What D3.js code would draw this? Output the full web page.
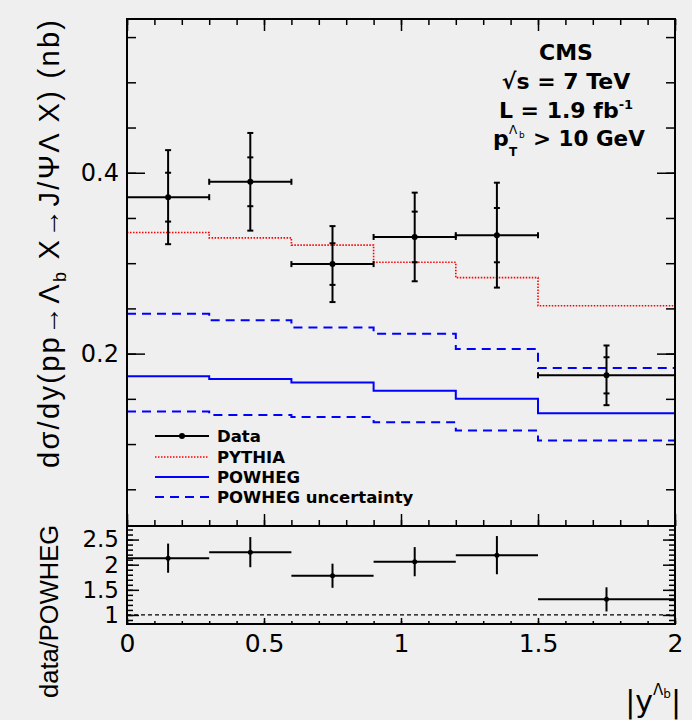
<!DOCTYPE html>
<html>
<head>
<meta charset="utf-8">
<script src="https://cdn.jsdelivr.net/npm/d3@7"></script>
<style>
body { margin: 0; background: #efefef; }
svg { display: block; }
text { fill: #000; }
</style>
</head>
<body>
<svg></svg>
<script>
const size = {w: 692, h: 720};
// frame of the two pads (main on top, ratio below)
const frame = {l: 127, r: 675, t: 19, mid: 526, b: 624};

// ---- data ----
const binEdges = [0, 0.3, 0.6, 0.9, 1.2, 1.5, 2.0];
const dataXsec = [0.373, 0.390, 0.299, 0.329, 0.331, 0.176];
const statErr = [0.027, 0.027, 0.023, 0.028, 0.030, 0.020];
const totErr = [0.052, 0.054, 0.042, 0.049, 0.058, 0.033];
const pythia = [0.334, 0.328, 0.320, 0.301, 0.284, 0.253];
const powheg = [0.175, 0.172, 0.168, 0.159, 0.150, 0.134];
const powhegUp = [0.244, 0.237, 0.229, 0.222, 0.205, 0.184];
const powhegDown = [0.136, 0.132, 0.130, 0.124, 0.115, 0.104];
const ratio = [2.13, 2.25, 1.78, 2.06, 2.19, 1.31];
const ratioErr = [0.29, 0.30, 0.24, 0.29, 0.38, 0.24];

const xTicks = [0, 0.5, 1, 1.5, 2];
const yMainTicks = [0.2, 0.4];
const yRatioTicks = [1, 1.5, 2, 2.5];
const legendLabels = ['Data', 'PYTHIA', 'POWHEG', 'POWHEG uncertainty'];

const svg = d3.select('svg')
    .attr('width', size.w)
    .attr('height', size.h);

svg.append('rect').attr('width', size.w).attr('height', size.h).attr('fill', '#efefef');

// scales
const x = d3.scaleLinear().domain([0, 2]).range([frame.l, frame.r]);
const yMain = d3.scaleLinear().domain([0.0094, 0.57]).range([frame.mid, frame.t]);
const yRatio = d3.scaleLinear().domain([0.82, 2.77]).range([frame.b, frame.mid]);

const bins = dataXsec.map((v, i) => ({
    lo: binEdges[i], hi: binEdges[i + 1],
    c: (binEdges[i] + binEdges[i + 1]) / 2,
    v: v, stat: statErr[i], tot: totErr[i],
    r: ratio[i], rErr: ratioErr[i]
}));

const minorX = d3.range(0, 2.001, 0.1);
const labelFont = 'DejaVu Sans, sans-serif';

// helper: ticks only (no domain line), styled ROOT-like
function ticks(axis, tx, ty) {
    const g = svg.append('g')
        .attr('transform', `translate(${tx},${ty})`)
        .call(axis);
    g.select('.domain').remove();
    g.selectAll('line').attr('stroke', '#000').attr('stroke-width', 1.5);
    g.selectAll('text').attr('font-family', labelFont).attr('font-size', 24).attr('fill', '#000');
    return g;
}

// ---- main pad ticks ----
ticks(d3.axisLeft(yMain).tickValues(d3.range(0.05, 0.56, 0.05)).tickSize(-9).tickFormat(''), frame.l, 0);
ticks(d3.axisLeft(yMain).tickValues(yMainTicks).tickSize(-18).tickPadding(8).tickFormat(d3.format('.1f')), frame.l, 0);
ticks(d3.axisRight(yMain).tickValues(d3.range(0.05, 0.56, 0.05)).tickSize(-9).tickFormat(''), frame.r, 0);
ticks(d3.axisRight(yMain).tickValues(yMainTicks).tickSize(-18).tickFormat(''), frame.r, 0);
ticks(d3.axisTop(x).tickValues(minorX).tickSize(-6).tickFormat(''), 0, frame.t);
ticks(d3.axisTop(x).tickValues(xTicks).tickSize(-12).tickFormat(''), 0, frame.t);
ticks(d3.axisBottom(x).tickValues(minorX).tickSize(-6).tickFormat(''), 0, frame.mid);
ticks(d3.axisBottom(x).tickValues(xTicks).tickSize(-12).tickFormat(''), 0, frame.mid);

// ---- ratio pad ticks ----
const minorR = d3.range(0.9, 2.71, 0.1);
ticks(d3.axisLeft(yRatio).tickValues(minorR).tickSize(-6).tickFormat(''), frame.l, 0);
ticks(d3.axisLeft(yRatio).tickValues(yRatioTicks).tickSize(-12).tickPadding(8).tickFormat(d => d3.format('~g')(d)), frame.l, 0)
    .selectAll('text').attr('font-size', 23);
ticks(d3.axisRight(yRatio).tickValues(minorR).tickSize(-6).tickFormat(''), frame.r, 0);
ticks(d3.axisRight(yRatio).tickValues(yRatioTicks).tickSize(-12).tickFormat(''), frame.r, 0);
ticks(d3.axisBottom(x).tickValues(minorX).tickSize(-3).tickFormat(''), 0, frame.b);
ticks(d3.axisBottom(x).tickValues(xTicks).tickSize(-6).tickPadding(10).tickFormat(d => d3.format('~g')(d)), 0, frame.b)
    .selectAll('text').attr('font-size', 25);

// ---- histograms (step lines) ----
function stepLine(vals, scaleY) {
    const pts = binEdges.map((e, i) => [x(e), scaleY(vals[Math.min(i, vals.length - 1)])]);
    return d3.line().curve(d3.curveStepAfter)(pts);
}

svg.append('path').attr('d', stepLine(pythia, yMain))
    .attr('fill', 'none').attr('stroke', '#ff0000').attr('stroke-width', 1.6)
    .attr('stroke-dasharray', '1.5,1.5');
svg.append('path').attr('d', stepLine(powhegUp, yMain))
    .attr('fill', 'none').attr('stroke', '#0000ff').attr('stroke-width', 2)
    .attr('stroke-dasharray', '9,6');
svg.append('path').attr('d', stepLine(powhegDown, yMain))
    .attr('fill', 'none').attr('stroke', '#0000ff').attr('stroke-width', 2)
    .attr('stroke-dasharray', '9,6');
svg.append('path').attr('d', stepLine(powheg, yMain))
    .attr('fill', 'none').attr('stroke', '#0000ff').attr('stroke-width', 2);

// ---- data points in main pad ----
const dataG = svg.append('g').attr('stroke', '#000').attr('stroke-width', 2);
const cap = 3;
bins.forEach(d => {
    const cx = x(d.c), cy = yMain(d.v);
    // horizontal bin width with end caps
    dataG.append('line').attr('x1', x(d.lo)).attr('x2', x(d.hi)).attr('y1', cy).attr('y2', cy);
    dataG.append('line').attr('x1', x(d.lo)).attr('x2', x(d.lo)).attr('y1', cy - cap).attr('y2', cy + cap);
    dataG.append('line').attr('x1', x(d.hi)).attr('x2', x(d.hi)).attr('y1', cy - cap).attr('y2', cy + cap);
    // total error, caps on stat and total
    dataG.append('line').attr('x1', cx).attr('x2', cx)
        .attr('y1', yMain(d.v + d.tot)).attr('y2', yMain(d.v - d.tot));
    [d.v + d.tot, d.v - d.tot, d.v + d.stat, d.v - d.stat].forEach(e => {
        dataG.append('line').attr('x1', cx - cap).attr('x2', cx + cap)
            .attr('y1', yMain(e)).attr('y2', yMain(e));
    });
    dataG.append('circle').attr('cx', cx).attr('cy', cy).attr('r', 3).attr('fill', '#000').attr('stroke', 'none');
});

// ---- ratio pad ----
svg.append('line').attr('x1', frame.l).attr('x2', frame.r)
    .attr('y1', yRatio(1)).attr('y2', yRatio(1))
    .attr('stroke', '#000').attr('stroke-width', 1.3).attr('stroke-dasharray', '4,3');

const ratioG = svg.append('g').attr('stroke', '#000').attr('stroke-width', 2);
bins.forEach(d => {
    const cx = x(d.c), cy = yRatio(d.r);
    ratioG.append('line').attr('x1', x(d.lo)).attr('x2', x(d.hi)).attr('y1', cy).attr('y2', cy);
    ratioG.append('line').attr('x1', cx).attr('x2', cx)
        .attr('y1', yRatio(d.r + d.rErr)).attr('y2', yRatio(d.r - d.rErr));
    ratioG.append('circle').attr('cx', cx).attr('cy', cy).attr('r', 2.5).attr('fill', '#000').attr('stroke', 'none');
});

// ---- frames ----
svg.append('rect').attr('x', frame.l).attr('y', frame.t)
    .attr('width', frame.r - frame.l).attr('height', frame.mid - frame.t)
    .attr('fill', 'none').attr('stroke', '#000').attr('stroke-width', 2);
svg.append('rect').attr('x', frame.l).attr('y', frame.mid)
    .attr('width', frame.r - frame.l).attr('height', frame.b - frame.mid)
    .attr('fill', 'none').attr('stroke', '#000').attr('stroke-width', 2);

// ---- legend ----
const legStyles = [
    {stroke: '#000', dash: null, w: 2, dot: true},
    {stroke: '#ff0000', dash: '1.5,1.5', w: 1.6},
    {stroke: '#0000ff', dash: null, w: 2},
    {stroke: '#0000ff', dash: '9,6', w: 2}
];
const legY = [436, 457, 477, 497];
const legend = svg.append('g');
legendLabels.forEach((lab, i) => {
    const s = legStyles[i];
    legend.append('line').attr('x1', 155).attr('x2', 209).attr('y1', legY[i]).attr('y2', legY[i])
        .attr('stroke', s.stroke).attr('stroke-width', s.w).attr('stroke-dasharray', s.dash);
    if (s.dot) legend.append('circle').attr('cx', 182).attr('cy', legY[i]).attr('r', 3);
    legend.append('text').attr('x', 217).attr('y', legY[i]).attr('dy', '0.36em')
        .attr('font-family', labelFont).attr('font-weight', 'bold').attr('font-size', 16.5)
        .text(lab);
});

// ---- CMS label box ----
const info = svg.append('g').attr('font-family', labelFont).attr('font-weight', 'bold').attr('font-size', 22);
info.append('text').attr('x', 566).attr('y', 60).attr('text-anchor', 'middle').text('CMS');
info.append('text').attr('x', 566).attr('y', 89).attr('text-anchor', 'middle').text('√s = 7 TeV');
const lumi = info.append('text').attr('x', 566).attr('y', 118).attr('text-anchor', 'middle');
lumi.append('tspan').text('L = 1.9 fb');
lumi.append('tspan').attr('dy', -9).attr('font-size', 13).text('-1');
info.append('text').attr('x', 493).attr('y', 146).text('p');
info.append('text').attr('x', 509).attr('y', 156).attr('font-size', 12).text('T');
info.append('text').attr('x', 509).attr('y', 134).attr('font-size', 12).attr('font-weight', 'normal').text('Λ');
info.append('text').attr('x', 519).attr('y', 138).attr('font-size', 9).attr('font-weight', 'normal').text('b');
info.append('text').attr('x', 533).attr('y', 146).attr('font-size', 21.5).text('> 10 GeV');

// ---- axis titles ----
const titleFont = 'Liberation Sans, Arial, sans-serif';
const yTitle = svg.append('text')
    .attr('transform', 'translate(59,20) rotate(-90)')
    .attr('text-anchor', 'end')
    .attr('font-family', titleFont).attr('font-size', 29)
    .attr('textLength', 448).attr('lengthAdjust', 'spacing');
yTitle.append('tspan').text('dσ/dy(pp→Λ');
yTitle.append('tspan').attr('dy', 7).attr('font-size', 18).text('b');
yTitle.append('tspan').attr('dy', -7).text(' X→J/ΨΛ X)  (nb)');

svg.append('text')
    .attr('transform', 'translate(58,525) rotate(-90)')
    .attr('text-anchor', 'end')
    .attr('font-family', titleFont).attr('font-size', 25.5)
    .text('data/POWHEG');

const xTitle = svg.append('text')
    .attr('x', 681).attr('y', 712)
    .attr('text-anchor', 'end')
    .attr('font-family', labelFont).attr('font-size', 30);
xTitle.append('tspan').text('|y');
xTitle.append('tspan').attr('dy', -17).attr('font-size', 15).text('Λ');
xTitle.append('tspan').attr('dy', 3).attr('font-size', 12).text('b');
xTitle.append('tspan').attr('dy', 14).text('|');
</script>
</body>
</html>
